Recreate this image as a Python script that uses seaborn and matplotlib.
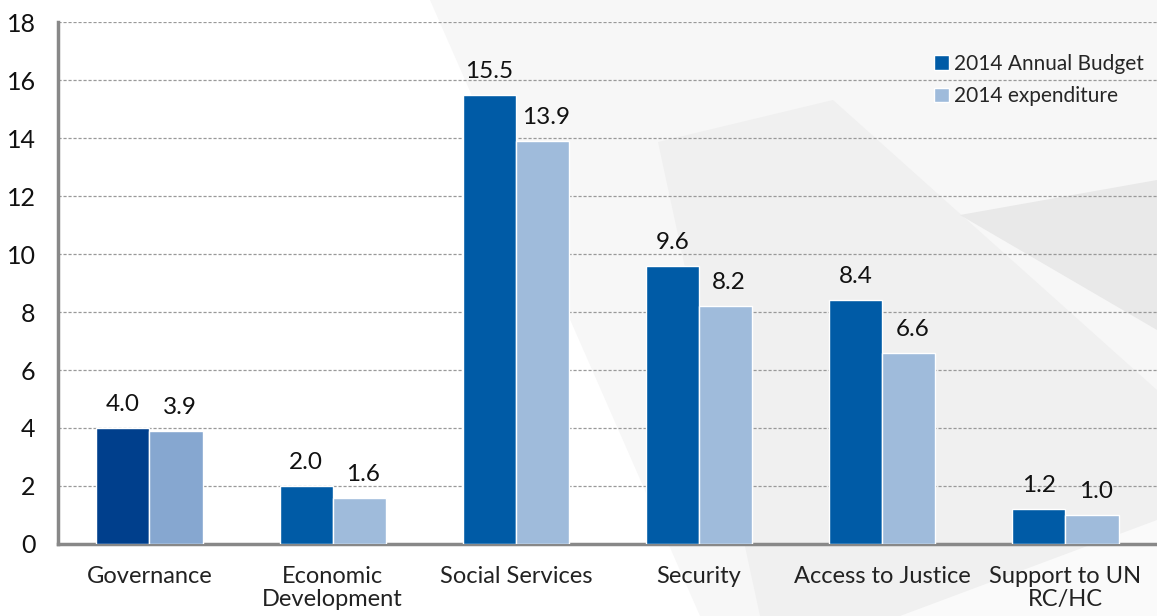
import matplotlib
matplotlib.use("Agg")
import matplotlib.pyplot as plt
import seaborn as sns
import pandas as pd
from matplotlib.patches import Polygon

categories = ["Governance", "Economic\nDevelopment", "Social Services", "Security",
              "Access to Justice", "Support to UN\nRC/HC"]
budget = [4.0, 2.0, 15.5, 9.6, 8.4, 1.2]
expenditure = [3.9, 1.6, 13.9, 8.2, 6.6, 1.0]
series = ["2014 Annual Budget", "2014 expenditure"]
y_ticks = [0, 2, 4, 6, 8, 10, 12, 14, 16, 18]

df = pd.DataFrame({
    "category": categories * 2,
    "value": budget + expenditure,
    "series": [series[0]] * len(categories) + [series[1]] * len(categories),
})

sns.set_style("white")
plt.rcParams["font.family"] = ["Lato", "DejaVu Sans"]

fig = plt.figure(figsize=(11.57, 6.16), dpi=100)
fig.patch.set_facecolor("white")


def bg(points, color, z):
    fig.patches.append(Polygon([[x / 1157, 1 - y / 616] for x, y in points], closed=True,
                               transform=fig.transFigure, facecolor=color,
                               edgecolor="none", zorder=z))


# subtle background shapes
bg([(430, 0), (1157, 0), (1157, 616), (700, 616)], "#f7f7f7", -12)
bg([(658, 142), (833, 100), (1157, 390), (1157, 616), (760, 616)], "#f0f0f0", -11)
bg([(960, 215), (1157, 180), (1157, 330)], "#e9e9e9", -10)
bg([(900, 616), (1157, 520), (1157, 616)], "#fafafa", -10)

ax = fig.add_axes([0.050, 0.117, 0.950, 0.847])
ax.patch.set_alpha(0)

palette = {series[0]: "#005BA6", series[1]: "#9FBBDB"}
sns.barplot(data=df, x="category", y="value", hue="series", hue_order=series,
            order=categories, palette=palette, width=0.58, gap=0, saturation=1,
            ax=ax, zorder=3)

# Governance bars slightly darker
cont_b, cont_e = ax.containers[0], ax.containers[1]
cont_b.patches[0].set_facecolor("#003F8C")
cont_e.patches[0].set_facecolor("#86A7D0")

for cont, vals, dx in [(cont_b, budget, 0), (cont_e, expenditure, 0.02)]:
    for p, v in zip(cont.patches, vals):
        ax.text(p.get_x() + p.get_width() / 2 + dx, v + 0.45, f"{v:.1f}",
                ha="center", va="bottom", fontsize=17.5, color="#111111", zorder=5)

ax.set_ylim(0, 18)
ax.set_xlim(-0.5, 5.5)
ax.set_yticks(y_ticks)
ax.set_yticklabels([str(t) for t in y_ticks], fontsize=18, color="#111111")
ax.tick_params(axis="y", length=0, pad=16)
ax.tick_params(axis="x", length=0, labelsize=17, pad=16, labelcolor="#222222")
for lab in ax.get_xticklabels():
    lab.set_linespacing(1.1)
ax.set_xlabel("")
ax.set_ylabel("")
ax.yaxis.grid(True, linestyle=(0, (2.5, 1.5)), color="#999999", linewidth=0.9, zorder=0)
ax.set_axisbelow(True)
for s in ["top", "right"]:
    ax.spines[s].set_visible(False)
ax.spines["left"].set_color("#888888")
ax.spines["left"].set_linewidth(2.5)
ax.spines["bottom"].set_color("#888888")
ax.spines["bottom"].set_linewidth(2.5)

leg = ax.legend(loc="upper right", bbox_to_anchor=(1.005, 0.975), frameon=False,
                fontsize=15, handlelength=0.7, handleheight=0.7, handletextpad=0.25,
                labelspacing=0.6)
leg.set_zorder(6)

fig.savefig("out.png", dpi=100)
